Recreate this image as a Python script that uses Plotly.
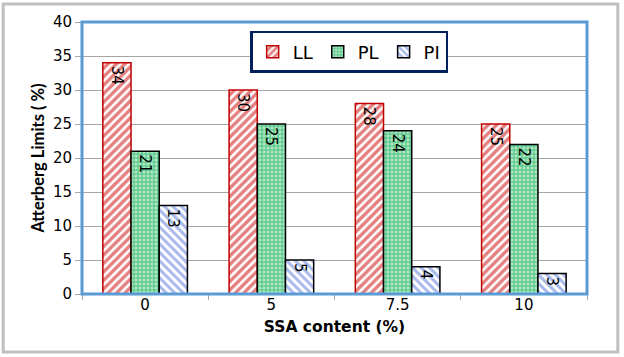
import plotly.graph_objects as go

categories = ["0", "5", "7.5", "10"]
ll_values = [34, 30, 28, 25]
pl_values = [21, 25, 24, 22]
pi_values = [13, 5, 4, 3]
y_ticks = [0, 5, 10, 15, 20, 25, 30, 35, 40]

fig = go.Figure()

def add(name, vals, line_color, fg, bg, shape, solidity, size):
    fig.add_trace(go.Bar(
        name=name, x=categories, y=vals,
        text=[str(v) for v in vals], textposition="inside",
        insidetextanchor="end", textangle=90,
        textfont=dict(family="DejaVu Sans", size=15, color="black"),
        marker=dict(color=bg, line=dict(color=line_color, width=1.5),
                    pattern=dict(shape=shape, fgcolor=fg, bgcolor=bg,
                                 solidity=solidity, size=size)),
    ))

add("LL", ll_values, "#C00000", "#CC0000", "white", "/", 0.58, 6)
add("PL", pl_values, "black", "white", "#62CC8E", ".", 0.45, 4)
add("PI", pi_values, "black", "#4F72D8", "white", "\\", 0.5, 6)

fig.update_layout(
    width=624, height=357,
    margin=dict(l=82, r=37, t=22, b=63),
    paper_bgcolor="white", plot_bgcolor="white",
    barmode="group", bargap=0.33, bargroupgap=0,
    legend=dict(orientation="h", x=0.333, y=0.967, xanchor="left", yanchor="top",
                bordercolor="#002060", borderwidth=2.5, bgcolor="white",
                font=dict(family="DejaVu Sans", size=18, color="black"),
                itemwidth=30, traceorder="normal"),
    xaxis=dict(
        title=dict(text="<b>SSA content (%)</b>", font=dict(family="DejaVu Sans", size=15.5, color="black"), standoff=8),
        tickfont=dict(family="DejaVu Sans", size=15, color="black"),
        ticks="outside", tickson="boundaries", ticklen=5, tickcolor="#A6A6A6",
        showline=False, showgrid=False,
    ),
    yaxis=dict(
        title=dict(text="<b>Atterberg Limits ( %)</b>", font=dict(family="Lato", size=16.5, color="black"), standoff=4),
        range=[0, 40], tickvals=y_ticks,
        tickfont=dict(family="DejaVu Sans", size=15, color="black"),
        ticks="outside", ticklen=6, tickcolor="#A6A6A6",
        showgrid=True, gridcolor="#A6A6A6", gridwidth=1,
        showline=False, zeroline=False,
    ),
    shapes=[
        dict(type="rect", xref="paper", yref="paper", x0=0, x1=1, y0=0, y1=1,
             line=dict(color="#5B9BD5", width=3), layer="above"),
        dict(type="rect", xref="paper", yref="paper", x0=-0.156, x1=1.061, y0=-0.213, y1=1.066,
             line=dict(color="#BFBFBF", width=3)),
    ],
)

fig.write_html("out.html", config={"displayModeBar": False},
               post_script="document.body.style.margin='0';document.body.style.padding='0';")
